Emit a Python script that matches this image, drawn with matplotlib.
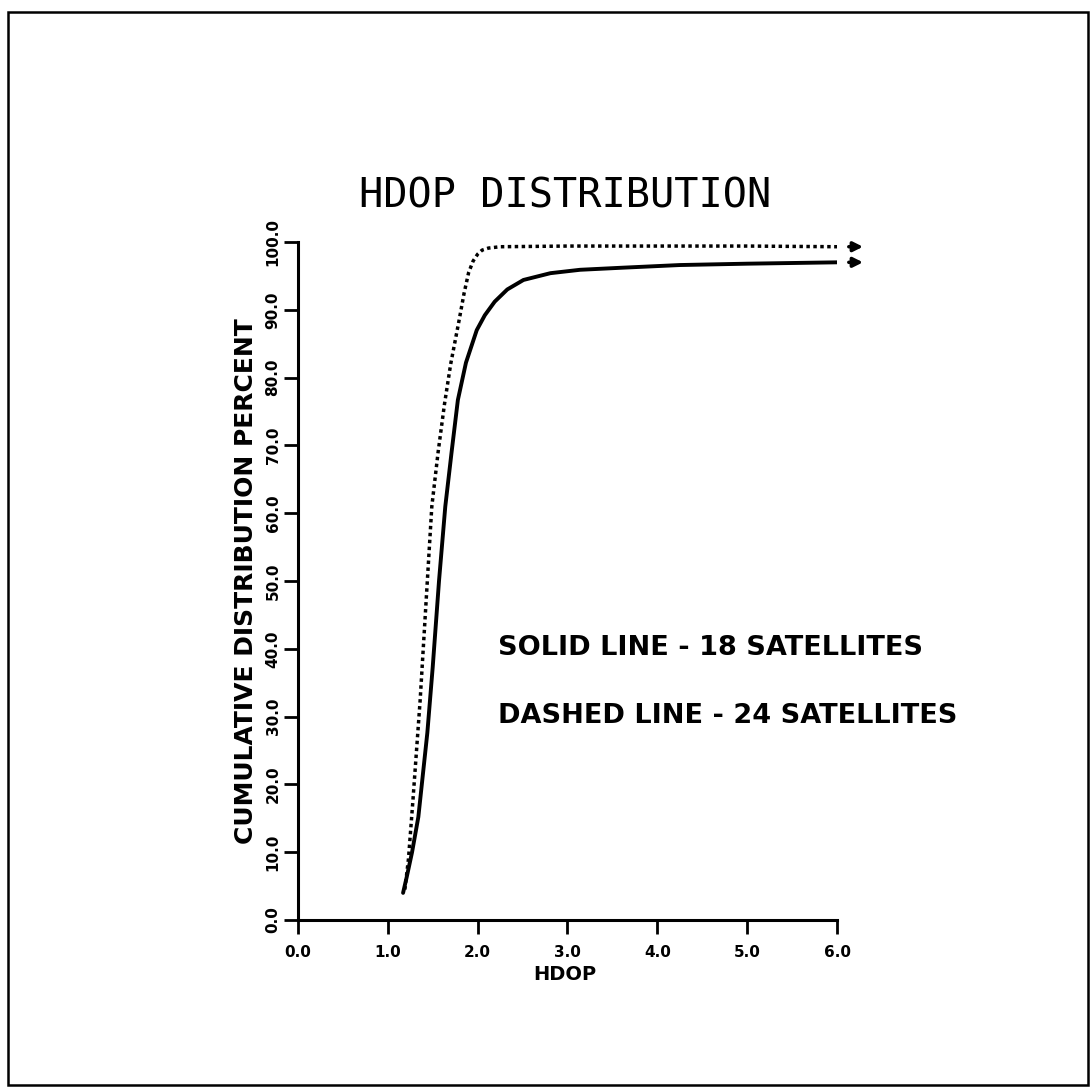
import matplotlib
matplotlib.use("Agg")
import matplotlib.pyplot as plt
import matplotlib.patches as patches

hdop_24 = [1.19, 1.23, 1.28, 1.36, 1.44, 1.49, 1.56, 1.63, 1.70, 1.79, 1.85, 1.90, 1.95, 2.00, 2.05,
           2.12, 2.25, 3.0, 4.0, 5.0, 6.0]
pct_24 = [4.5, 9.0, 17.7, 32.4, 50.0, 61.0, 69.0, 76.0, 82.0, 88.2, 92.5, 95.5, 97.2, 98.2, 98.8,
          99.1, 99.3, 99.4, 99.4, 99.4, 99.3]

hdop_18 = [1.17, 1.21, 1.27, 1.34, 1.44, 1.50, 1.57, 1.64, 1.71, 1.78, 1.87, 1.99, 2.08, 2.19, 2.33,
           2.51, 2.81, 3.14, 3.6, 4.25, 5.0, 6.0]
pct_18 = [4.0, 6.3, 10.0, 15.2, 27.6, 37.3, 50.0, 61.0, 69.0, 76.7, 82.2, 87.0, 89.2, 91.2, 93.0,
          94.4, 95.4, 95.9, 96.2, 96.6, 96.8, 97.0]

xticks = [0, 1, 2, 3, 4, 5, 6]
yticks = [0, 10, 20, 30, 40, 50, 60, 70, 80, 90, 100]

fam = 'DejaVu Sans'

fig = plt.figure(figsize=(10.91, 10.92), dpi=100)
ax = fig.add_axes([0.2731, 0.1575, 0.4941, 0.6209])

ax.plot(hdop_18, pct_18, color='black', lw=2.8, solid_capstyle='round', solid_joinstyle='round')
ax.plot(hdop_24, pct_24, color='black', lw=2.5, linestyle=(0, (1.0, 1.0)))

# little arrows at the right end of each curve
for yy in [pct_24[-1], pct_18[-1]]:
    ax.annotate('', xy=(6.32, yy), xytext=(6.1, yy), annotation_clip=False,
                arrowprops=dict(arrowstyle='-|>', color='black', lw=2.5, mutation_scale=14))

ax.set_xlim(0, 6)
ax.set_ylim(0, 100)
ax.set_xticks(xticks)
ax.set_yticks(yticks)
ax.set_xticklabels(['%.1f' % v for v in xticks], family=fam, weight='bold', fontsize=11)
ax.set_yticklabels(['%.1f' % v for v in yticks], family=fam, weight='bold', fontsize=11,
                   rotation=90, va='center')
ax.tick_params(length=10, width=2, direction='out')
ax.tick_params(axis='x', pad=8)
ax.tick_params(axis='y', pad=2.5)
ax.spines['top'].set_visible(False)
ax.spines['right'].set_visible(False)
ax.spines['left'].set_linewidth(2.2)
ax.spines['bottom'].set_linewidth(2.2)

ax.set_xlabel('HDOP', family=fam, weight='bold', fontsize=14)
ax.xaxis.set_label_coords(0.495, -0.081)
ax.xaxis.label.set_va('center')
ax.set_ylabel('CUMULATIVE DISTRIBUTION PERCENT', family=fam, weight='bold', fontsize=18)
ax.yaxis.set_label_coords(-0.0965, 0.5)
ax.yaxis.label.set_va('center')

fig.text(0.518, 0.8196, 'HDOP DISTRIBUTION', family='DejaVu Sans Mono', fontsize=29,
         ha='center', va='center')

ax.text(2.23, 40.1, 'SOLID LINE - 18 SATELLITES', family=fam, weight='bold', fontsize=19.5, va='center')
ax.text(2.23, 30.1, 'DASHED LINE - 24 SATELLITES', family=fam, weight='bold', fontsize=19.5, va='center')

# frame around the page
fig.patches.append(patches.Rectangle((8 / 1091, 1 - 1085 / 1092), 1080 / 1091, 1073 / 1092,
                                     transform=fig.transFigure, fill=False, lw=1.8, color='black'))

fig.savefig('out.png', dpi=100)
